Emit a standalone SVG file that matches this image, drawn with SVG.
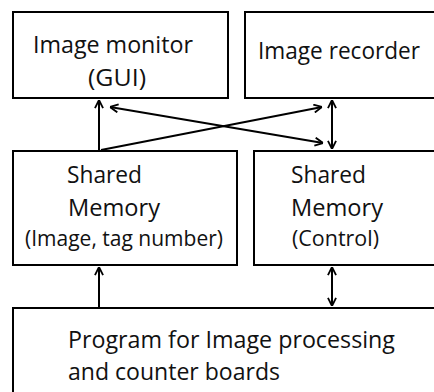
<svg xmlns="http://www.w3.org/2000/svg" width="434" height="392" viewBox="0 0 434 392">
  <style>
    .box { fill: #ffffff; stroke: #000000; stroke-width: 2; }
    .t { font-family: "Open Sans", "Noto Sans", "Liberation Sans", sans-serif; font-size: 24px; fill: #111111; }
    .s { font-family: "Open Sans", "Noto Sans", "Liberation Sans", sans-serif; font-size: 22px; fill: #111111; }
    .c { fill: none; stroke: #000000; stroke-width: 2; }
  </style>
  <defs>
    <marker id="ah" viewBox="0 0 10 10" refX="10" refY="5" markerWidth="9" markerHeight="10" markerUnits="userSpaceOnUse" orient="auto-start-reverse">
      <path d="M1,0.5 L10,5 L1,9.5" fill="none" stroke="#000000" stroke-width="2"/>
    </marker>
  </defs>
  <rect width="434" height="392" fill="#ffffff"/>

  <g id="image-monitor">
    <rect class="box" x="13" y="12" width="215" height="86"/>
    <text class="t" x="33" y="53" textLength="160" lengthAdjust="spacingAndGlyphs">Image monitor</text>
    <text class="t" x="88" y="86" textLength="58" lengthAdjust="spacingAndGlyphs">(GUI)</text>
  </g>

  <g id="image-recorder">
    <rect class="box" x="245" y="12" width="200" height="86"/>
    <text class="t" x="258" y="59" textLength="162" lengthAdjust="spacingAndGlyphs">Image recorder</text>
  </g>

  <g id="shared-memory-image">
    <rect class="box" x="13" y="151" width="224" height="114"/>
    <text class="t" x="67" y="183" textLength="75" lengthAdjust="spacingAndGlyphs">Shared</text>
    <text class="t" x="68" y="216" textLength="92" lengthAdjust="spacingAndGlyphs">Memory</text>
    <text class="s" x="25" y="246" textLength="198" lengthAdjust="spacingAndGlyphs">(Image, tag number)</text>
  </g>

  <g id="shared-memory-control">
    <rect class="box" x="254" y="151" width="200" height="114"/>
    <text class="t" x="291" y="183" textLength="75" lengthAdjust="spacingAndGlyphs">Shared</text>
    <text class="t" x="291" y="216" textLength="92" lengthAdjust="spacingAndGlyphs">Memory</text>
    <text class="s" x="292" y="246" textLength="87" lengthAdjust="spacingAndGlyphs">(Control)</text>
  </g>

  <g id="program">
    <rect class="box" x="13" y="308" width="440" height="100"/>
    <text class="t" x="68" y="348" textLength="327" lengthAdjust="spacingAndGlyphs">Program for Image processing</text>
    <text class="t" x="68" y="380" textLength="212" lengthAdjust="spacingAndGlyphs">and counter boards</text>
  </g>

  <g id="connectors">
    <line class="c" x1="99" y1="151" x2="99" y2="100" marker-end="url(#ah)"/>
    <line class="c" x1="101" y1="150" x2="322" y2="107" marker-end="url(#ah)"/>
    <line class="c" x1="110" y1="107" x2="323" y2="143" marker-start="url(#ah)" marker-end="url(#ah)"/>
    <line class="c" x1="332" y1="100" x2="332" y2="149" marker-start="url(#ah)" marker-end="url(#ah)"/>
    <line class="c" x1="99" y1="308" x2="99" y2="267" marker-end="url(#ah)"/>
    <line class="c" x1="332" y1="267" x2="332" y2="306" marker-start="url(#ah)" marker-end="url(#ah)"/>
  </g>
</svg>
